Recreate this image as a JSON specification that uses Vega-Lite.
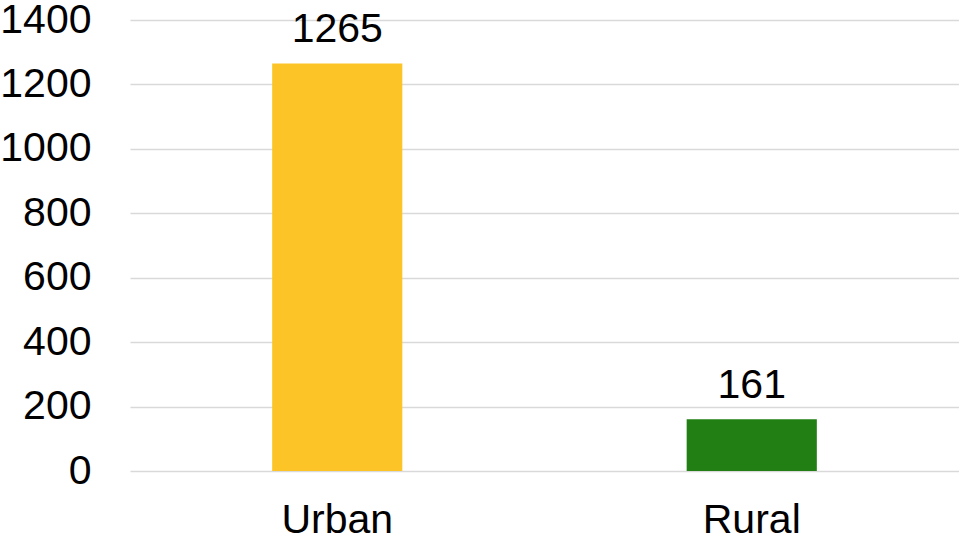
{
  "$schema": "https://vega.github.io/schema/vega-lite/v6.json",
  "autosize": {"type": "none"},
  "width": 829,
  "height": 451,
  "padding": {"left": 130, "top": 20, "right": 0, "bottom": 69},
  "background": "white",
  "config": {
    "view": {"stroke": null},
    "font": "Liberation Sans"
  },
  "data": {
    "values": [
      {"area": "Urban", "value": 1265},
      {"area": "Rural", "value": 161}
    ]
  },
  "encoding": {
    "x": {
      "field": "area",
      "type": "nominal",
      "sort": ["Urban", "Rural"],
      "scale": {"paddingInner": 0.686, "paddingOuter": 0.343},
      "axis": {
        "title": null,
        "labelAngle": 0,
        "labelFontSize": 41,
        "labelColor": "#000000",
        "labelFont": "Liberation Sans",
        "domain": false,
        "ticks": false,
        "labelPadding": 29,
        "labelBaseline": "top"
      }
    },
    "y": {
      "field": "value",
      "type": "quantitative",
      "scale": {"domain": [0, 1400], "nice": false},
      "axis": {
        "title": null,
        "values": [0, 200, 400, 600, 800, 1000, 1200, 1400],
        "format": "d",
        "labelFontSize": 41,
        "labelColor": "#000000",
        "labelFont": "Liberation Sans",
        "domain": false,
        "ticks": false,
        "labelPadding": 39,
        "grid": true,
        "gridColor": "#d9d9d9",
        "gridWidth": 1.5
      }
    }
  },
  "layer": [
    {
      "mark": {"type": "bar"},
      "encoding": {
        "color": {
          "field": "area",
          "type": "nominal",
          "scale": {"domain": ["Urban", "Rural"], "range": ["#FDC427", "#217F13"]},
          "legend": null
        }
      }
    },
    {
      "mark": {"type": "text", "baseline": "alphabetic", "dy": -21, "fontSize": 41, "font": "Liberation Sans", "color": "#000000"},
      "encoding": {
        "text": {"field": "value", "type": "quantitative", "format": "d"}
      }
    }
  ]
}
